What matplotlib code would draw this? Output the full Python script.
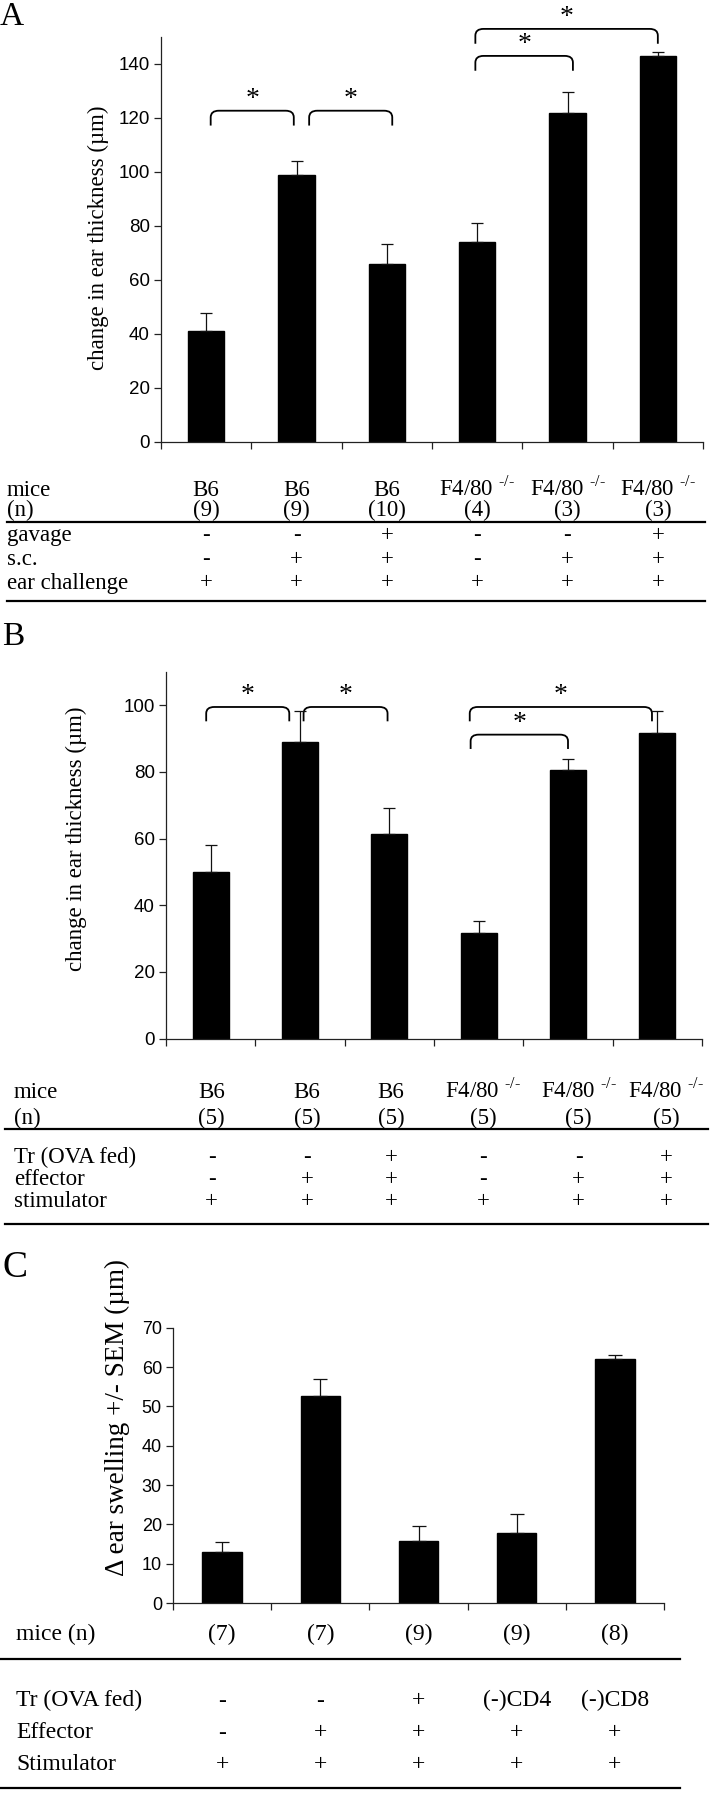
import matplotlib.pyplot as plt
import matplotlib.transforms as mtransforms
from matplotlib.path import Path
from matplotlib.patches import PathPatch
from matplotlib.lines import Line2D

plt.rcParams['font.family'] = ['Liberation Serif', 'DejaVu Serif']
plt.rcParams['mathtext.fontset'] = 'custom'
plt.rcParams['mathtext.rm'] = 'Liberation Serif'

# ---- data ----
F4 = r'F4/80 $^{\text{-/-}}$'

a_means = [41, 99, 66, 74, 122, 143]
a_sem = [6.6, 4.9, 7.2, 7.0, 7.7, 1.5]
a_mice = ['B6', 'B6', 'B6', F4, F4, F4]
a_n = ['(9)', '(9)', '(10)', '(4)', '(3)', '(3)']
a_gavage = ['-', '-', '+', '-', '-', '+']
a_sc = ['-', '+', '+', '-', '+', '+']
a_ear = ['+', '+', '+', '+', '+', '+']

b_means = [50, 89, 61.5, 31.7, 80.7, 91.7]
b_sem = [8.0, 9.2, 7.8, 3.6, 3.3, 6.5]
b_mice = ['B6', 'B6', 'B6', F4, F4, F4]
b_n = ['(5)', '(5)', '(5)', '(5)', '(5)', '(5)']
b_tr = ['-', '-', '+', '-', '-', '+']
b_effector = ['-', '+', '+', '-', '+', '+']
b_stim = ['+', '+', '+', '+', '+', '+']

c_means = [13, 52.7, 15.8, 17.8, 62]
c_sem = [2.4, 4.2, 3.7, 4.8, 1.0]
c_n = ['(7)', '(7)', '(9)', '(9)', '(8)']
c_tr = ['-', '-', '+', '(-)CD4', '(-)CD8']
c_effector = ['-', '+', '+', '+', '+']
c_stim = ['+', '+', '+', '+', '+']

# significance brackets: (x start, x end, height)
a_brackets = [(0.05, 0.97, 122.7), (1.14, 2.06, 122.7), (2.98, 4.06, 143), (2.98, 5.0, 153)]
b_brackets = [(-0.05, 0.88, 99.5), (1.04, 1.98, 99.5), (2.91, 4.0, 91.2), (2.90, 4.94, 99.5)]

W, H = 710, 1800
fig = plt.figure(figsize=(7.1, 18), dpi=100)


def fy(y):
    return 1 - y / H


def make_axes(left, right, top, bottom, ncat, ymax, yticks, tickfont):
    ax = fig.add_axes([left / W, fy(bottom), (right - left) / W, (bottom - top) / H])
    ax.set_xlim(-0.5, ncat - 0.5)
    ax.set_ylim(0, ymax)
    for s in ['top', 'right']:
        ax.spines[s].set_visible(False)
    for s in ['left', 'bottom']:
        ax.spines[s].set_linewidth(0.9)
        ax.spines[s].set_color('#222222')
    ax.set_xticks([i - 0.5 for i in range(ncat + 1)])
    ax.set_xticklabels([])
    ax.set_yticks(yticks)
    ax.set_yticklabels([str(t) for t in yticks], **tickfont)
    ax.tick_params(axis='both', direction='out', length=5, width=0.9, color='#222222', pad=3)
    return ax


def draw_bars(ax, means, sem, capsize):
    x = list(range(len(means)))
    ax.bar(x, means, width=0.4, color='black', edgecolor='black', zorder=2)
    ax.errorbar(x, means, yerr=[[0] * len(sem), sem], fmt='none', ecolor='#111111',
                elinewidth=0.9, capsize=capsize, capthick=0.9, zorder=3)


def bracket(ax, x0, x1, y, depth, dx=0.09):
    yc = y - depth * 0.45
    verts = [(x0, y - depth), (x0, yc), (x0, y), (x0 + dx, y),
             (x1 - dx, y), (x1, y), (x1, yc), (x1, y - depth)]
    codes = [Path.MOVETO, Path.LINETO, Path.CURVE3, Path.CURVE3,
             Path.LINETO, Path.CURVE3, Path.CURVE3, Path.LINETO]
    ax.add_patch(PathPatch(Path(verts, codes), fill=False, lw=1.3, clip_on=False))
    ax.annotate('*', ((x0 + x1) / 2, y), xytext=(0, -1), textcoords='offset points',
                ha='center', va='bottom', fontsize=20, annotation_clip=False)


def row(ax, xs, y, labels, label, label_x, size=16):
    trans = mtransforms.blended_transform_factory(ax.transData, fig.transFigure)
    fig.text(label_x / W, fy(y), label, ha='left', va='baseline', fontsize=size)
    for x, t in zip(xs, labels):
        ax.text(x, fy(y), t, transform=trans, ha='center', va='baseline', fontsize=size)


def hline(x0, x1, y, lw=1.6):
    fig.add_artist(Line2D([x0 / W, x1 / W], [fy(y), fy(y)], color='black', lw=lw))


narrow = {'family': ['Liberation Sans Narrow', 'Liberation Sans', 'DejaVu Sans'],
          'fontstretch': 'condensed', 'fontsize': 13.5}
arial = {'family': ['Liberation Sans', 'DejaVu Sans'], 'fontsize': 13}

# ---- panel A ----
fig.text(0, fy(17), 'A', fontsize=24, ha='left', va='center')
axA = make_axes(161, 703, 37, 442, 6, 150, list(range(0, 141, 20)), narrow)
draw_bars(axA, a_means, a_sem, 4)
for x0, x1, y in a_brackets:
    bracket(axA, x0, x1, y, 5.5)
fig.text(98 / W, fy(238), 'change in ear thickness (µm)', rotation=90,
         ha='center', va='center', fontsize=16.5)
ax_cols = list(range(6))
row(axA, ax_cols, 495.5, a_mice, 'mice', 7, 16.5)
row(axA, ax_cols, 516.5, a_n, '(n)', 7, 16.5)
hline(7, 705, 521.7)
row(axA, ax_cols, 541.5, a_gavage, 'gavage', 7, 16.5)
row(axA, ax_cols, 565, a_sc, 's.c.', 7, 16.5)
row(axA, ax_cols, 588.5, a_ear, 'ear challenge', 7, 16.5)
hline(7, 705, 600.7)

# ---- panel B ----
fig.text(2 / W, fy(637), 'B', fontsize=24, ha='left', va='center')
axB = make_axes(166, 702, 672, 1038.5, 6, 110, list(range(0, 101, 20)), narrow)
draw_bars(axB, b_means, b_sem, 4)
for x0, x1, y in b_brackets:
    bracket(axB, x0, x1, y, 4.3)
fig.text(76 / W, fy(839), 'change in ear thickness (µm)', rotation=90,
         ha='center', va='center', fontsize=16.5)
b_cols = [0.01, 1.08, 2.02, 3.05, 4.12, 5.1]
row(axB, b_cols, 1098, b_mice, 'mice', 14, 16.5)
row(axB, b_cols, 1124, b_n, '(n)', 14, 16.5)
hline(5, 708, 1128.5)
row(axB, b_cols, 1163, b_tr, 'Tr (OVA fed)', 14, 16.5)
row(axB, b_cols, 1185, b_effector, 'effector', 14, 16.5)
row(axB, b_cols, 1207, b_stim, 'stimulator', 14, 16.5)
hline(5, 708, 1223.5)

# ---- panel C ----
fig.text(2 / W, fy(1268), 'C', fontsize=27, ha='left', va='center')
axC = make_axes(173, 664, 1327.7, 1603, 5, 70, list(range(0, 71, 10)), arial)
draw_bars(axC, c_means, c_sem, 5)
fig.text(117 / W, fy(1418), 'Δ ear swelling +/- SEM (µm)', rotation=90,
         ha='center', va='center', fontsize=19.5)
c_cols = list(range(5))
row(axC, c_cols, 1640, c_n, 'mice (n)', 16, 17)
hline(0, 680, 1659.3)
row(axC, c_cols, 1706.5, c_tr, 'Tr (OVA fed)', 16, 17)
row(axC, c_cols, 1738.5, c_effector, 'Effector', 16, 17)
row(axC, c_cols, 1770.5, c_stim, 'Stimulator', 16, 17)
hline(0, 680, 1788.3)

fig.savefig('out.png', dpi=100)
